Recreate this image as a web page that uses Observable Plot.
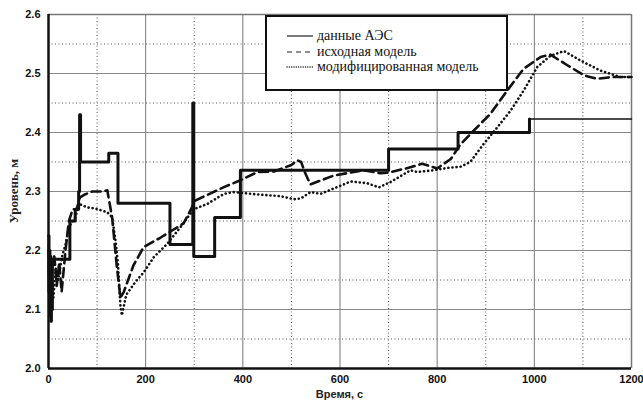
<!DOCTYPE html>
<html>
<head>
<meta charset="utf-8">
<script src="https://cdn.jsdelivr.net/npm/d3@7"></script>
<script src="https://cdn.jsdelivr.net/npm/@observablehq/plot@0.6"></script>
<style>
  html, body { margin: 0; padding: 0; background: #fff; }
  #chart { width: 643px; height: 403px; }
</style>
</head>
<body>
<div id="chart"></div>
<script>
// ---- data ----
const xTicks = [0, 200, 400, 600, 800, 1000, 1200];
const xMinor = [100, 300, 500, 700, 900, 1100];
const yTicks = [2.0, 2.1, 2.2, 2.3, 2.4, 2.5, 2.6];
const yMinor = [2.05, 2.15, 2.25, 2.35, 2.45, 2.55];

const seriesNames = ["данные АЭС", "исходная модель", "модифицированная модель"];
const xLabel = "Время, с";
const yLabel = "Уровень, м";

// данные АЭС (step data)
const aesT = [0, 1, 2, 3, 4, 5, 6, 7, 8, 44, 55, 62, 64, 66, 124, 143, 250, 297, 299, 342, 395, 700, 843, 990, 1200];
const aesV = [2.225, 2.13, 2.20, 2.09, 2.19, 2.08, 2.17, 2.10, 2.185, 2.25, 2.27, 2.30, 2.43, 2.35, 2.365, 2.28, 2.21, 2.45, 2.19, 2.256, 2.336, 2.372, 2.40, 2.423, 2.423];

// исходная модель
const baseT = [0, 3, 7, 12, 17, 22, 27, 35, 42, 50, 58, 65, 75, 90, 110, 121, 131, 140, 148, 155, 175, 196, 231, 278, 303, 360, 395, 430, 464, 500, 512, 520, 529, 539, 587, 649, 683, 700, 745, 769, 800, 828, 848, 875, 910, 944, 978, 1013, 1033, 1068, 1102, 1129, 1160, 1200];
const baseV = [2.20, 2.10, 2.17, 2.19, 2.14, 2.18, 2.13, 2.20, 2.25, 2.27, 2.27, 2.29, 2.295, 2.30, 2.30, 2.302, 2.256, 2.178, 2.12, 2.13, 2.175, 2.206, 2.222, 2.246, 2.285, 2.307, 2.319, 2.333, 2.334, 2.345, 2.353, 2.35, 2.33, 2.312, 2.327, 2.336, 2.331, 2.332, 2.341, 2.347, 2.339, 2.355, 2.38, 2.403, 2.432, 2.471, 2.508, 2.528, 2.532, 2.514, 2.497, 2.491, 2.494, 2.494];

// модифицированная модель
const modT = [0, 3, 6, 10, 15, 20, 28, 35, 42, 55, 63, 80, 97, 121, 131, 138, 143, 148, 151, 160, 180, 196, 217, 244, 272, 299, 327, 361, 381, 430, 478, 505, 519, 539, 560, 587, 622, 656, 680, 704, 745, 759, 793, 821, 848, 868, 896, 924, 951, 978, 1006, 1033, 1061, 1095, 1136, 1177, 1200];
const modV = [2.18, 2.10, 2.16, 2.12, 2.17, 2.15, 2.19, 2.21, 2.24, 2.256, 2.279, 2.273, 2.271, 2.265, 2.256, 2.217, 2.177, 2.107, 2.09, 2.125, 2.148, 2.163, 2.189, 2.211, 2.24, 2.27, 2.279, 2.296, 2.299, 2.295, 2.292, 2.287, 2.288, 2.299, 2.296, 2.305, 2.317, 2.314, 2.307, 2.316, 2.336, 2.333, 2.336, 2.34, 2.342, 2.35, 2.381, 2.409, 2.437, 2.471, 2.511, 2.53, 2.538, 2.522, 2.505, 2.494, 2.494];

// ---- tables built from the arrays ----
const aes = aesT.map((t, i) => ({t, v: aesV[i]}));
const aesThick = aes.filter(d => d.t <= 990);
const aesThin = aes.filter(d => d.t >= 990);
const base = baseT.map((t, i) => ({t, v: baseV[i]}));
const mod = modT.map((t, i) => ({t, v: modV[i]}));

const W = 643, H = 403;
const mL = 48, mR = 12, mT = 14, mB = 35;

const chart = Plot.plot({
  width: W,
  height: H,
  marginLeft: mL,
  marginRight: mR,
  marginTop: mT,
  marginBottom: mB,
  style: {fontFamily: "'Liberation Sans', Arial, sans-serif", fontSize: "11px", fontWeight: "bold", color: "#111", background: "#fff"},
  x: {domain: [0, 1200], ticks: xTicks, tickSize: 0, tickPadding: 7, label: null, tickFormat: d3.format("d")},
  y: {domain: [2.0, 2.6], ticks: yTicks, tickSize: 0, tickPadding: 8, label: null, tickFormat: d3.format(".1f")},
  marks: [
    Plot.gridX(xMinor, {stroke: "#555", strokeOpacity: 1, strokeWidth: 1, strokeDasharray: "1,2.5"}),
    Plot.gridY(yMinor, {stroke: "#555", strokeOpacity: 1, strokeWidth: 1, strokeDasharray: "1,2.5"}),
    Plot.gridX(xTicks.slice(1, -1), {stroke: "#777", strokeOpacity: 1, strokeWidth: 1}),
    Plot.gridY(yTicks.slice(1, -1), {stroke: "#888", strokeOpacity: 1, strokeWidth: 1}),
    Plot.ruleX([1200], {stroke: "#777", strokeWidth: 1.5}),
    Plot.ruleY([2.6], {stroke: "#777", strokeWidth: 1.5}),
    Plot.line(mod, {x: "t", y: "v", stroke: "#111", strokeWidth: 2.6, strokeDasharray: "0.1,4", strokeLinecap: "round"}),
    Plot.line(base, {x: "t", y: "v", stroke: "#111", strokeWidth: 2.6, strokeDasharray: "9,5"}),
    Plot.line(aesThick, {x: "t", y: "v", stroke: "#111", strokeWidth: 3, curve: "step-after"}),
    Plot.line(aesThin, {x: "t", y: "v", stroke: "#111", strokeWidth: 1.5, curve: "step-after"}),
    Plot.ruleX([0], {stroke: "#111", strokeWidth: 2.5}),
    Plot.ruleY([2.0], {stroke: "#111", strokeWidth: 2.5})
  ]
});

document.getElementById("chart").appendChild(chart);

// ---- axis titles and legend (added to the SVG) ----
const svg = d3.select(chart);
const cx = (mL + (W - mR)) / 2;
const cy = (mT + (H - mB)) / 2;

svg.append("text")
  .attr("x", cx).attr("y", 398)
  .attr("text-anchor", "middle")
  .style("font-family", "'Liberation Sans', Arial, sans-serif")
  .style("font-size", "11px").style("font-weight", "bold")
  .attr("fill", "#222")
  .text(xLabel);

svg.append("text")
  .attr("transform", `translate(18,${cy}) rotate(-90)`)
  .attr("text-anchor", "middle")
  .style("font-family", "'Liberation Serif', 'Times New Roman', serif")
  .style("font-size", "13px").style("font-weight", "bold")
  .attr("fill", "#222")
  .text(yLabel);

const lg = svg.append("g");
lg.append("rect")
  .attr("x", 266).attr("y", 16).attr("width", 241).attr("height", 74)
  .attr("fill", "#fff").attr("stroke", "#111").attr("stroke-width", 2);
const styles = [
  {dash: null, w: 1.2, cap: "butt"},
  {dash: "5,4", w: 1, cap: "butt"},
  {dash: "0.1,2.2", w: 1.4, cap: "round"}
];
const rowsY = [36, 52, 67];
seriesNames.forEach((name, i) => {
  const ln = lg.append("path")
    .attr("d", `M287,${rowsY[i]}H313`)
    .attr("fill", "none")
    .attr("stroke", "#222").attr("stroke-width", styles[i].w)
    .attr("stroke-linecap", styles[i].cap);
  if (styles[i].dash) ln.attr("stroke-dasharray", styles[i].dash);
  lg.append("text")
    .attr("x", 317).attr("y", rowsY[i] + 4)
    .attr("text-anchor", "start")
    .style("text-anchor", "start")
    .style("font-family", "'Liberation Serif', 'Times New Roman', serif")
    .style("font-size", "14px").style("font-weight", "normal")
    .attr("fill", "#111")
    .text(name);
});
</script>
</body>
</html>
